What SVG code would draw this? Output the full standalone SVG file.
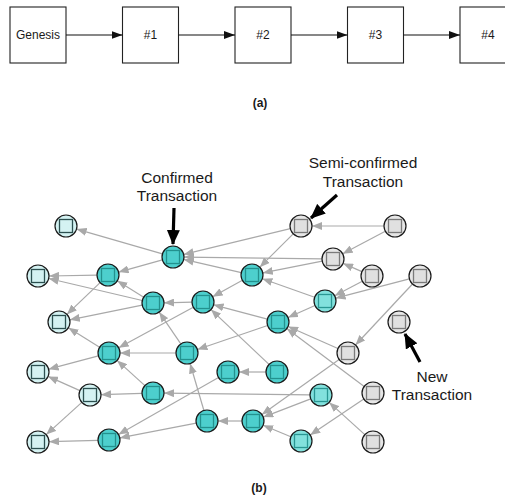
<svg xmlns="http://www.w3.org/2000/svg" width="505" height="499" viewBox="0 0 505 499">
<style>
text{font-family:"Liberation Sans",Arial,Helvetica,sans-serif;fill:#1a1a1a}
.box rect{fill:#fff;stroke:#222;stroke-width:1.1}
.box text{font-size:12px;text-anchor:middle}
.blk{stroke:#111;stroke-width:1.1;fill:none;marker-end:url(#ba)}
.e line{stroke:#a9a9a9;stroke-width:1.2;marker-end:url(#ga)}
.n circle{stroke:#1a1a1a;stroke-width:1.2}
.n rect{stroke-width:1.3}
.t circle,.t rect{fill:#4dcfcd}.t rect{stroke:#23918e}
.p circle,.p rect{fill:#82e1dd}.p rect{stroke:#2a9793}
.l circle,.l rect{fill:#d4f2f2}.l rect{stroke:#2c5050}
.g circle{fill:#e6e6e6}.g rect{fill:#e0e0e0;stroke:#7a7a7a}
.lbl{font-size:15.5px;text-anchor:middle}
.cap{font-size:12px;font-weight:bold;text-anchor:middle}
.ann{stroke:#000;stroke-width:3.2;marker-end:url(#ka)}
</style>
<defs>
<marker id="ba" markerUnits="userSpaceOnUse" markerWidth="11" markerHeight="8" refX="11" refY="4" orient="auto"><path d="M0,0 L11,4 L0,8 z" fill="#111"/></marker>
<marker id="ga" markerUnits="userSpaceOnUse" markerWidth="10" markerHeight="8" refX="10" refY="4" orient="auto"><path d="M0,0 L10,4 L0,8 z" fill="#a9a9a9"/></marker>
<marker id="ka" markerUnits="userSpaceOnUse" markerWidth="15" markerHeight="13" refX="14" refY="6.5" orient="auto"><path d="M0,0 L15,6.5 L0,13 z" fill="#000"/></marker>
</defs>

<g id="chain">
<g id="genesis" class="box"><rect x="10" y="7" width="56" height="56"/><text x="38" y="39">Genesis</text></g>
<g id="b1" class="box"><rect x="122.5" y="7" width="56" height="56"/><text x="150.5" y="39">#1</text></g>
<g id="b2" class="box"><rect x="235" y="7" width="56" height="56"/><text x="263" y="39">#2</text></g>
<g id="b3" class="box"><rect x="347.5" y="7" width="56" height="56"/><text x="375.5" y="39">#3</text></g>
<g id="b4" class="box"><rect x="460" y="7" width="56" height="56"/><text x="488" y="39">#4</text></g>
</g>
<g id="chain-links">
<line class="blk" x1="66" y1="35" x2="122.5" y2="35"/>
<line class="blk" x1="178.5" y1="35" x2="235" y2="35"/>
<line class="blk" x1="291" y1="35" x2="347.5" y2="35"/>
<line class="blk" x1="403.5" y1="35" x2="460" y2="35"/>
</g>
<text class="cap" x="260" y="107">(a)</text>

<g id="edges" class="e">
<line x1="162.4" y1="253.9" x2="76.6" y2="229.1"/>
<line x1="162.4" y1="259.9" x2="118.6" y2="272.1"/>
<line x1="97" y1="275.2" x2="49" y2="276"/>
<line x1="100.1" y1="282.6" x2="66.9" y2="314.4"/>
<line x1="143.7" y1="297.2" x2="117.3" y2="280.8"/>
<line x1="142.3" y1="300.5" x2="48.7" y2="278.5"/>
<line x1="142.2" y1="305.2" x2="69.8" y2="319.8"/>
<line x1="192" y1="302.2" x2="164" y2="302.8"/>
<line x1="193.3" y1="307.2" x2="118.7" y2="347.8"/>
<line x1="241.3" y1="272.6" x2="183.7" y2="259.4"/>
<line x1="242.4" y1="280.3" x2="212.6" y2="296.7"/>
<line x1="290.3" y1="228.6" x2="183.7" y2="254.4"/>
<line x1="293.2" y1="233.8" x2="259.8" y2="267.2"/>
<line x1="384" y1="226" x2="312" y2="226"/>
<line x1="385.3" y1="231.2" x2="342.7" y2="253.8"/>
<line x1="322" y1="258.9" x2="184" y2="257.1"/>
<line x1="322.2" y1="261.1" x2="262.8" y2="272.9"/>
<line x1="361.9" y1="271.6" x2="343.1" y2="263.4"/>
<line x1="362.3" y1="281.2" x2="334.7" y2="295.8"/>
<line x1="409.4" y1="278.8" x2="335.6" y2="298.2"/>
<line x1="412.5" y1="284" x2="355.5" y2="345"/>
<line x1="314.6" y1="297.3" x2="262.4" y2="278.7"/>
<line x1="315" y1="305.5" x2="288" y2="317.5"/>
<line x1="267.4" y1="319.2" x2="213.6" y2="304.8"/>
<line x1="267.6" y1="325.5" x2="197.4" y2="349.5"/>
<line x1="180.8" y1="343.9" x2="159.2" y2="312.1"/>
<line x1="176" y1="353" x2="120" y2="353"/>
<line x1="98.4" y1="355.8" x2="48.6" y2="369.2"/>
<line x1="99.6" y1="347.2" x2="68.4" y2="327.8"/>
<line x1="266" y1="372" x2="239" y2="372"/>
<line x1="269" y1="364.4" x2="211" y2="309.6"/>
<line x1="218.5" y1="377.5" x2="118.5" y2="434.5"/>
<line x1="144.9" y1="385.6" x2="117.1" y2="360.4"/>
<line x1="142" y1="393.3" x2="101" y2="394.7"/>
<line x1="79.9" y1="390.6" x2="48" y2="376.4"/>
<line x1="81.8" y1="402.4" x2="46.2" y2="434.6"/>
<line x1="310" y1="394.9" x2="164" y2="393.1"/>
<line x1="310.7" y1="398.9" x2="263.3" y2="417.1"/>
<line x1="337.9" y1="348.5" x2="288.1" y2="326.5"/>
<line x1="339.1" y1="359.4" x2="261.9" y2="414.6"/>
<line x1="364.2" y1="386.4" x2="286.8" y2="328.6"/>
<line x1="363.8" y1="399.1" x2="310.2" y2="434.9"/>
<line x1="203.9" y1="410.5" x2="190.1" y2="363.5"/>
<line x1="196.2" y1="423.1" x2="119.8" y2="437.9"/>
<line x1="242" y1="421" x2="218" y2="421"/>
<line x1="98" y1="440.3" x2="49" y2="441.7"/>
<line x1="290.8" y1="436.8" x2="263.2" y2="425.2"/>
<line x1="364.8" y1="434.6" x2="329.2" y2="402.4"/>
</g>

<g id="nodes">
<g id="L1" class="n l" transform="translate(66,226)"><circle r="11"/><rect x="-6.5" y="-6.5" width="13" height="13"/></g>
<g id="C" class="n t" transform="translate(173,257)"><circle r="11"/><rect x="-6.5" y="-6.5" width="13" height="13"/></g>
<g id="L2" class="n l" transform="translate(38,276)"><circle r="11"/><rect x="-6.5" y="-6.5" width="13" height="13"/></g>
<g id="T1" class="n t" transform="translate(108,275)"><circle r="11"/><rect x="-6.5" y="-6.5" width="13" height="13"/></g>
<g id="T2" class="n t" transform="translate(252,275)"><circle r="11"/><rect x="-6.5" y="-6.5" width="13" height="13"/></g>
<g id="T3" class="n t" transform="translate(153,303)"><circle r="11"/><rect x="-6.5" y="-6.5" width="13" height="13"/></g>
<g id="T4" class="n t" transform="translate(203,302)"><circle r="11"/><rect x="-6.5" y="-6.5" width="13" height="13"/></g>
<g id="L3" class="n l" transform="translate(59,322)"><circle r="11"/><rect x="-6.5" y="-6.5" width="13" height="13"/></g>
<g id="G1" class="n g" transform="translate(301,226)"><circle r="11"/><rect x="-6.5" y="-6.5" width="13" height="13"/></g>
<g id="G2" class="n g" transform="translate(395,226)"><circle r="11"/><rect x="-6.5" y="-6.5" width="13" height="13"/></g>
<g id="G3" class="n g" transform="translate(333,259)"><circle r="11"/><rect x="-6.5" y="-6.5" width="13" height="13"/></g>
<g id="G4" class="n g" transform="translate(372,276)"><circle r="11"/><rect x="-6.5" y="-6.5" width="13" height="13"/></g>
<g id="G5" class="n g" transform="translate(420,276)"><circle r="11"/><rect x="-6.5" y="-6.5" width="13" height="13"/></g>
<g id="T5" class="n p" transform="translate(325,301)"><circle r="11"/><rect x="-6.5" y="-6.5" width="13" height="13"/></g>
<g id="T6" class="n t" transform="translate(278,322)"><circle r="11"/><rect x="-6.5" y="-6.5" width="13" height="13"/></g>
<g id="G6" class="n g" transform="translate(399,322)"><circle r="11"/><rect x="-6.5" y="-6.5" width="13" height="13"/></g>
<g id="T7" class="n t" transform="translate(109,353)"><circle r="11"/><rect x="-6.5" y="-6.5" width="13" height="13"/></g>
<g id="T8" class="n t" transform="translate(187,353)"><circle r="11"/><rect x="-6.5" y="-6.5" width="13" height="13"/></g>
<g id="G7" class="n g" transform="translate(348,353)"><circle r="11"/><rect x="-6.5" y="-6.5" width="13" height="13"/></g>
<g id="L4" class="n l" transform="translate(38,372)"><circle r="11"/><rect x="-6.5" y="-6.5" width="13" height="13"/></g>
<g id="T9" class="n t" transform="translate(228,372)"><circle r="11"/><rect x="-6.5" y="-6.5" width="13" height="13"/></g>
<g id="T10" class="n t" transform="translate(277,372)"><circle r="11"/><rect x="-6.5" y="-6.5" width="13" height="13"/></g>
<g id="L5" class="n l" transform="translate(90,395)"><circle r="11"/><rect x="-6.5" y="-6.5" width="13" height="13"/></g>
<g id="T11" class="n t" transform="translate(153,393)"><circle r="11"/><rect x="-6.5" y="-6.5" width="13" height="13"/></g>
<g id="T12" class="n p" transform="translate(321,395)"><circle r="11"/><rect x="-6.5" y="-6.5" width="13" height="13"/></g>
<g id="G8" class="n g" transform="translate(373,393)"><circle r="11"/><rect x="-6.5" y="-6.5" width="13" height="13"/></g>
<g id="T13" class="n t" transform="translate(207,421)"><circle r="11"/><rect x="-6.5" y="-6.5" width="13" height="13"/></g>
<g id="T14" class="n t" transform="translate(253,421)"><circle r="11"/><rect x="-6.5" y="-6.5" width="13" height="13"/></g>
<g id="L6" class="n l" transform="translate(38,442)"><circle r="11"/><rect x="-6.5" y="-6.5" width="13" height="13"/></g>
<g id="T15" class="n t" transform="translate(109,440)"><circle r="11"/><rect x="-6.5" y="-6.5" width="13" height="13"/></g>
<g id="T16" class="n p" transform="translate(301,441)"><circle r="11"/><rect x="-6.5" y="-6.5" width="13" height="13"/></g>
<g id="G9" class="n g" transform="translate(373,442)"><circle r="11"/><rect x="-6.5" y="-6.5" width="13" height="13"/></g>
</g>

<g id="annotations">
<text class="lbl" x="177" y="183">Confirmed</text>
<text class="lbl" x="177" y="201">Transaction</text>
<line class="ann" x1="174" y1="208" x2="173" y2="244"/>
<text class="lbl" x="363" y="168">Semi-confirmed</text>
<text class="lbl" x="363" y="187">Transaction</text>
<line class="ann" x1="337" y1="195" x2="311" y2="218"/>
<line class="ann" x1="420" y1="362" x2="405" y2="334"/>
<text class="lbl" x="432" y="382">New</text>
<text class="lbl" x="432" y="400">Transaction</text>
</g>
<text class="cap" x="259" y="492">(b)</text>
</svg>
